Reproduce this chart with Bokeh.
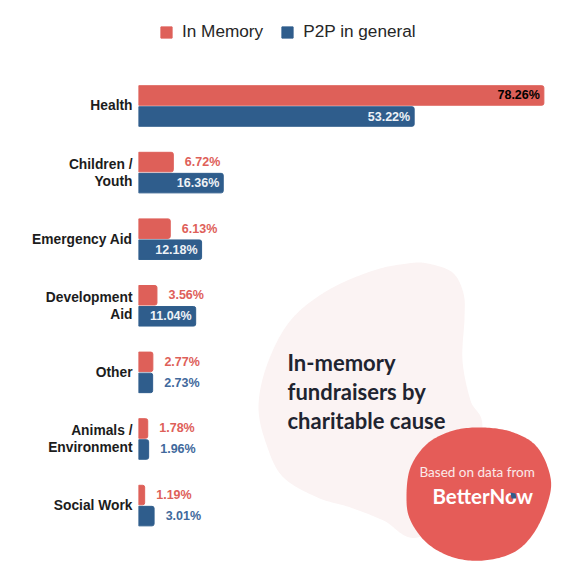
from bokeh.plotting import figure
from bokeh.core.properties import value
from bokeh.models import (ColumnDataSource, Range1d, FixedTicker, Legend, LegendItem,
                          PolyAnnotation, Label)
from bokeh.transform import dodge
from bokeh.embed import file_html
from bokeh.resources import INLINE
import numpy as np

categories = ["Health", "Children /\nYouth", "Emergency Aid", "Development\nAid",
              "Other", "Animals /\nEnvironment", "Social Work"]
in_memory = [78.26, 6.72, 6.13, 3.56, 2.77, 1.78, 1.19]
p2p_general = [53.22, 16.36, 12.18, 11.04, 2.73, 1.96, 3.01]

RED = "#de6059"
BLUE = "#2f5d8c"
FONT = "Liberation Sans"

row = list(range(len(categories)))


def label_style(values, outside_color, inside_color):
    offsets, colors = [], []
    for v in values:
        inside = v > 10
        offsets.append(-4 if inside else 47)
        colors.append(inside_color if inside else outside_color)
    return offsets, colors


mem_off, mem_col = label_style(in_memory, RED, "#000000")
p2p_off, p2p_col = label_style(p2p_general, "#41699c", "#eef2f7")

src = ColumnDataSource(dict(
    row=row, mem=in_memory, p2p=p2p_general,
    mem_text=[f"{v:.2f}%" for v in in_memory],
    p2p_text=[f"{v:.2f}%" for v in p2p_general],
    mem_off=mem_off, mem_col=mem_col, p2p_off=p2p_off, p2p_col=p2p_col,
))

p = figure(width=573, height=573, output_backend="svg", toolbar_location=None,
           x_range=Range1d(0, 83.98), y_range=Range1d(7.02, -1.584),
           min_border_left=138, min_border_right=0, min_border_top=0, min_border_bottom=0,
           outline_line_color=None, background_fill_color=None, border_fill_color="#ffffff")
p.xaxis.visible = False
p.xgrid.visible = False
p.ygrid.visible = False
ax = p.yaxis[0]
ax.ticker = FixedTicker(ticks=row)
ax.major_label_overrides = {i: c for i, c in enumerate(categories)}
ax.axis_line_color = None
ax.major_tick_line_color = None
ax.minor_tick_line_color = None
ax.major_label_text_font = FONT
ax.major_label_text_font_style = "bold"
ax.major_label_text_font_size = "13.8px"
ax.major_label_text_color = "#1c1c1c"
ax.major_label_standoff = 0
ax.major_label_text_line_height = 1.13


def blob(points, n=16):
    pts = np.array(points, dtype=float)
    k = len(pts)
    out = []
    for i in range(k):
        p0, p1, p2, p3 = pts[i - 1], pts[i], pts[(i + 1) % k], pts[(i + 2) % k]
        for t in np.linspace(0, 1, n, endpoint=False):
            out.append(0.5 * (2 * p1 + (p2 - p0) * t + (2 * p0 - 5 * p1 + 4 * p2 - p3) * t ** 2
                              + (3 * p1 - p0 - 3 * p2 + p3) * t ** 3))
    out = np.array(out)
    return out[:, 0].tolist(), out[:, 1].tolist()


pale = [(427, 263), (452, 272), (463, 293), (464, 318), (462, 360), (470, 400), (482, 427),
        (470, 500), (417, 537), (383, 520), (350, 507), (317, 497), (283, 477), (267, 447),
        (258, 407), (267, 363), (290, 320), (327, 290), (373, 270), (407, 263)]
red = [(483, 427), (513, 432), (537, 447), (550, 477), (547, 503), (533, 533), (513, 552),
       (483, 560), (453, 557), (427, 543), (410, 520), (406, 497), (410, 467), (427, 443),
       (453, 430)]
for pts, col in ((pale, "#fbf3f3"), (red, "#e55c58")):
    xs, ys = blob(pts)
    p.add_layout(PolyAnnotation(xs=xs, ys=ys, xs_units="canvas", ys_units="canvas",
                                fill_color=col, fill_alpha=1, line_color=None, level="underlay"))

r1 = p.hbar(y=dodge("row", -0.158, range=p.y_range), right="mem", left=0, height=0.293,
            source=src, color=RED, border_radius=(0, 2, 2, 0))
r2 = p.hbar(y=dodge("row", 0.158, range=p.y_range), right="p2p", left=0, height=0.293,
            source=src, color=BLUE, border_radius=(0, 2, 2, 0))

for field, off, col, d in (("mem_text", "mem_off", "mem_col", -0.158),
                           ("p2p_text", "p2p_off", "p2p_col", 0.158)):
    p.text(x=field.split("_")[0], y=dodge("row", d, range=p.y_range), text=field, source=src,
           x_offset=off, text_color=col, text_align="right", text_baseline="middle",
           text_font=value(FONT), text_font_style="bold", text_font_size="12.5px")

legend = Legend(items=[LegendItem(label="In Memory", renderers=[r1]),
                       LegendItem(label="P2P in general", renderers=[r2])],
                orientation="horizontal", location=(21, 531), padding=0, margin=0, spacing=17,
                glyph_width=14, glyph_height=14, label_standoff=9, label_height=14,
                label_text_font=FONT, label_text_font_size="17.2px", label_text_color="#262626",
                border_line_color=None, background_fill_color=None, background_fill_alpha=0)
p.add_layout(legend, "center")


def text(t, x, y, size, color, style="normal"):
    p.add_layout(Label(x=x, y=y, x_units="canvas", y_units="canvas", text=t,
                       text_font="Lato", text_font_size=size, text_color=color,
                       text_font_style=style, text_baseline="alphabetic"))


text("In-memory", 287, 362, "22px", "#1f2430", "bold")
text("fundraisers by", 287, 391, "22px", "#1f2430", "bold")
text("charitable cause", 287, 420, "22px", "#1f2430", "bold")
text("Based on data from", 419, 471, "13.5px", "#fbeaea")
text("BetterNow", 432, 495, "20.5px", "#ffffff", "bold")

p.add_layout(PolyAnnotation(xs=[510, 515, 516, 511], ys=[492, 493, 498, 498],
                            xs_units="canvas", ys_units="canvas",
                            fill_color=BLUE, fill_alpha=1, line_color=None))

open("out.html", "w").write(file_html(p, INLINE))
